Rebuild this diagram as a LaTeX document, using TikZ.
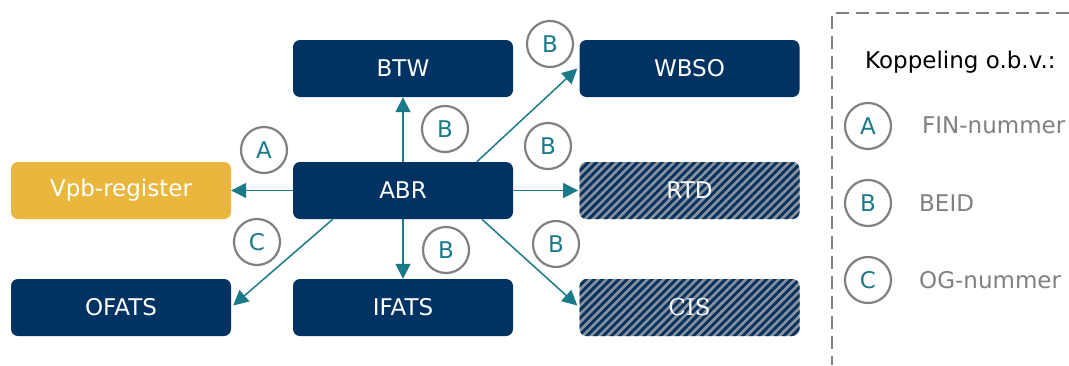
\documentclass[tikz,border=0pt]{standalone}
\usepackage{fontspec}
\setmainfont{DejaVu Sans}
\newfontfamily\serifcis{DejaVu Serif}
\usetikzlibrary{calc,arrows.meta,patterns.meta}
\definecolor{navy}{RGB}{0,51,97}
\definecolor{gold}{RGB}{233,183,62}
\definecolor{teal2}{RGB}{27,122,138}
\definecolor{ringgray}{RGB}{128,128,128}
\definecolor{hatchgray}{RGB}{140,145,155}
\begin{document}
\begin{tikzpicture}[x=1pt,y=-1pt,
 box/.style={rounded corners=7pt, minimum width=220pt, minimum height=57pt, inner sep=0pt, text=white, font=\fontsize{23}{27}\selectfont},
 navybox/.style={box, fill=navy},
 goldbox/.style={box, fill=gold},
 hatchbox/.style={box, preaction={fill=hatchgray}, pattern={Lines[angle=45,distance=5.8pt,line width=2.9pt]}, pattern color=navy},
 conn/.style={draw=teal2, line width=1.5pt, -{Triangle[length=15pt,width=15pt]}},
 ring/.style={circle, draw=ringgray, line width=2.2pt, minimum size=46pt, inner sep=0pt, text=teal2, font=\fontsize{23}{27}\selectfont},
 legtext/.style={anchor=base west, text=ringgray, font=\fontsize{23}{27}\selectfont, inner sep=0pt}
]
\useasboundingbox (0,0) rectangle (1069,365);

\node[navybox] (btw) at (403,68.5) {BTW};
\node[navybox] (wbso) at (689.5,68.5) {WBSO};
\node[goldbox] (vpb) at (121,190.5) {Vpb-register};
\node[navybox] (abr) at (403,190.5) {ABR};
\node[hatchbox] (rtd) at (689.5,190.5) {RTD};
\node[navybox] (ofats) at (121,307.5) {OFATS};
\node[navybox] (ifats) at (403,307.5) {IFATS};
\node[hatchbox, font=\serifcis\fontsize{23}{27}\selectfont] (cis) at (689.5,307.5) {CIS};

\draw[conn] (abr.north) -- (btw.south);
\draw[conn] (abr.west) -- (vpb.east);
\draw[conn] (abr.east) -- (rtd.west);
\draw[conn] (abr.south) -- (ifats.north);
\draw[conn] ($(abr.north west)+(184,0)$) -- ($(wbso.west)+(-2,0)$);
\draw[conn] ($(abr.south west)+(40,0)$) -- ($(ofats.east)+(2,-2)$);
\draw[conn] ($(abr.south west)+(189,0)$) -- ($(cis.west)+(-2,-2)$);

\node[ring] (ra) at (264,150) {A};
\node[ring] (rb1) at (445,129) {B};
\node[ring] (rb2) at (550,44) {B};
\node[ring] (rb3) at (548,146) {B};
\node[ring] (rc) at (257,242) {C};
\node[ring] (rb4) at (446,250) {B};
\node[ring] (rb5) at (556,244) {B};

\draw[ringgray, line width=2.8pt, dash pattern=on 13pt off 7pt] (1069,13) -- (832,13) -- (832,365);
\node[anchor=base west, inner sep=0pt, font=\fontsize{23}{27}\selectfont] (legtitle) at (865,68) {Koppeling o.b.v.:};
\node[ring] (la) at (868,126) {A};
\node[ring] (lb) at (868,203) {B};
\node[ring] (lc) at (868,280) {C};
\node[legtext] (lta) at (922,133) {FIN-nummer};
\node[legtext] (ltb) at (919,211) {BEID};
\node[legtext] (ltc) at (919,288) {OG-nummer};
\end{tikzpicture}
\end{document}
